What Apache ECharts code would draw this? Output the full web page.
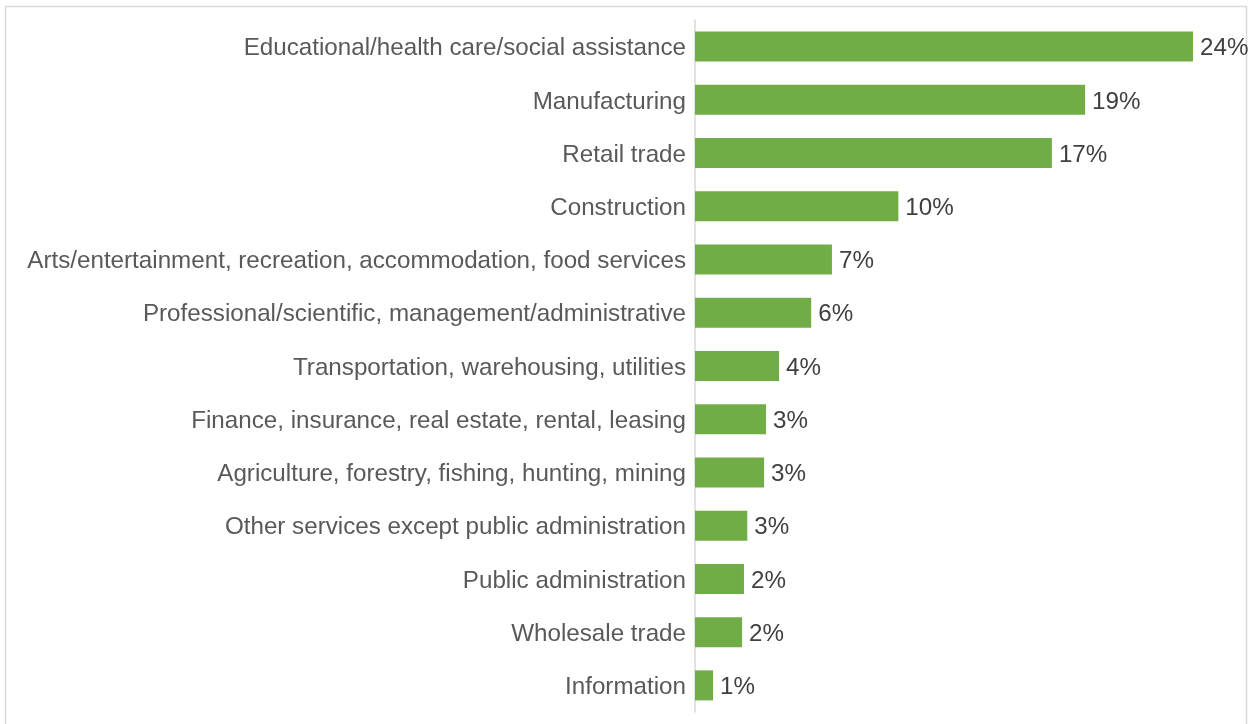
<!DOCTYPE html>
<html>
<head>
<meta charset="utf-8">
<script src="https://cdn.jsdelivr.net/npm/echarts@6/dist/echarts.min.js"></script>
<style>
  html, body { margin: 0; padding: 0; background: #ffffff; }
  #chart { width: 1255px; height: 724px; }
</style>
</head>
<body>
<div id="chart"></div>
<script>
// Industry categories, top to bottom
const industries = [
  'Educational/health care/social assistance',
  'Manufacturing',
  'Retail trade',
  'Construction',
  'Arts/entertainment, recreation, accommodation, food services',
  'Professional/scientific, management/administrative',
  'Transportation, warehousing, utilities',
  'Finance, insurance, real estate, rental, leasing',
  'Agriculture, forestry, fishing, hunting, mining',
  'Other services except public administration',
  'Public administration',
  'Wholesale trade',
  'Information'
];

// Share of workers by industry (percent)
const shares = [24.0, 18.8, 17.2, 9.8, 6.6, 5.6, 4.05, 3.42, 3.33, 2.52, 2.36, 2.27, 0.87];

const chart = echarts.init(document.getElementById('chart'));

chart.setOption({
  animation: false,
  backgroundColor: '#ffffff',
  textStyle: { fontFamily: 'Liberation Sans, Arial, sans-serif' },
  graphic: [{
    type: 'rect',
    shape: { x: 5.5, y: 6.5, width: 1241, height: 740 },
    style: { fill: 'none', stroke: '#d9d9d9', lineWidth: 1.5 },
    silent: true
  }],
  grid: { left: 695, right: 41.25, top: 20, bottom: 12, containLabel: false },
  xAxis: {
    type: 'value',
    min: 0,
    max: 25,
    show: false
  },
  yAxis: {
    type: 'category',
    data: industries,
    inverse: true,
    axisTick: { show: false },
    axisLine: { show: true, lineStyle: { color: '#d9d9d9', width: 1.5 } },
    axisLabel: {
      margin: 9,
      formatter: v => '{t|' + v + '}',
      rich: { t: { color: '#595959', fontSize: 24.2, lineHeight: 24, padding: [4, 0, 0, 0] } }
    },
    splitLine: { show: false }
  },
  series: [{
    type: 'bar',
    data: shares,
    barWidth: 30,
    itemStyle: { color: '#70ad47' },
    label: {
      show: true,
      position: 'right',
      distance: 7,
      formatter: p => '{v|' + Math.round(p.value) + '%}',
      rich: { v: { color: '#404040', fontSize: 24.2, lineHeight: 24, padding: [4, 0, 0, 0] } }
    }
  }]
});
</script>
</body>
</html>
